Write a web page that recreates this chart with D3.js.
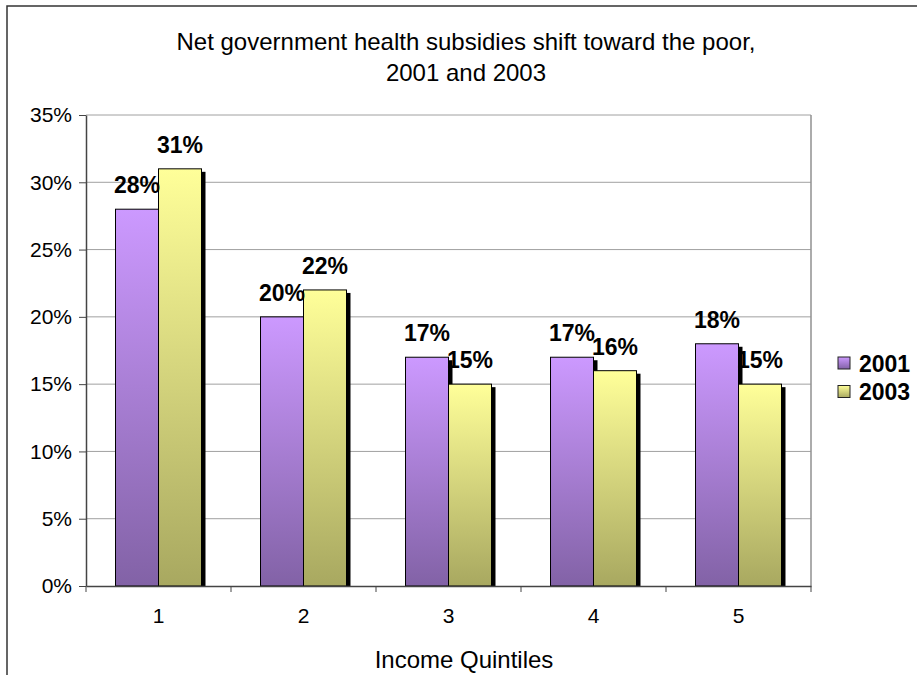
<!DOCTYPE html>
<html>
<head>
<meta charset="utf-8">
<script src="https://cdn.jsdelivr.net/npm/d3@7"></script>
<style>
  body { margin: 0; background: #fff; }
  svg { display: block; font-family: "Liberation Sans", Arial, sans-serif; }
</style>
</head>
<body>
<div id="chart"></div>
<script>
// Datos
const quintiles = ['1', '2', '3', '4', '5'];
const years = ['2001', '2003'];
const values2001 = [0.28, 0.20, 0.17, 0.17, 0.18];
const values2003 = [0.31, 0.22, 0.15, 0.16, 0.15];
const yTicks = [0, 0.05, 0.10, 0.15, 0.20, 0.25, 0.30, 0.35];
const titleLines = ['Net government health subsidies shift toward the poor,', '2001 and 2003'];

const W = 917, H = 675;
const plot = { left: 86, right: 811, top: 115, bottom: 586 };

const svg = d3.select('#chart').append('svg')
    .attr('width', W).attr('height', H);

// Degradados
const defs = svg.append('defs');
const grads = {
    '2001': ['#cc99ff', '#8262a6'],
    '2003': ['#ffff99', '#a8a860']
};
years.forEach(yr => {
    const g = defs.append('linearGradient')
        .attr('id', 'grad' + yr)
        .attr('x1', 0).attr('y1', 0).attr('x2', 0).attr('y2', 1);
    g.append('stop').attr('offset', '0%').attr('stop-color', grads[yr][0]);
    g.append('stop').attr('offset', '100%').attr('stop-color', grads[yr][1]);
});

// Marco exterior
svg.append('path')
    .attr('d', `M7,${H + 5} V6 H${W + 5}`)
    .attr('fill', 'none').attr('stroke', '#333').attr('stroke-width', 1.5);

// Escalas
const x = d3.scaleBand()
    .domain(quintiles)
    .range([plot.left, plot.right])
    .paddingInner(0.407)
    .paddingOuter(0.2035);

const xs = d3.scaleBand().domain(years).range([0, x.bandwidth()]);

const y = d3.scaleLinear()
    .domain([0, 0.35])
    .range([plot.bottom, plot.top]);

// Rejilla
svg.append('g').selectAll('line')
    .data(yTicks.filter(t => t > 0))
    .join('line')
    .attr('x1', plot.left).attr('x2', plot.right)
    .attr('y1', d => y(d)).attr('y2', d => y(d))
    .attr('stroke', '#a0a0a0').attr('stroke-width', 1);

// Borde derecho del área de trazado
svg.append('line')
    .attr('x1', plot.right).attr('x2', plot.right)
    .attr('y1', plot.top).attr('y2', plot.bottom)
    .attr('stroke', '#909090').attr('stroke-width', 1.5);

// Barras con sombra
const series = [
    { year: '2001', values: values2001 },
    { year: '2003', values: values2003 }
];

series.forEach(s => {
    const rows = quintiles.map((q, i) => ({ q, v: s.values[i] }));
    const g = svg.append('g');
    g.selectAll('rect.shadow')
        .data(rows)
        .join('rect')
        .attr('class', 'shadow')
        .attr('x', d => x(d.q) + xs(s.year) + 4)
        .attr('y', d => y(d.v) + 3)
        .attr('width', xs.bandwidth())
        .attr('height', d => plot.bottom - y(d.v) - 3)
        .attr('fill', '#000');
    g.selectAll('rect.bar')
        .data(rows)
        .join('rect')
        .attr('class', 'bar')
        .attr('x', d => x(d.q) + xs(s.year))
        .attr('y', d => y(d.v))
        .attr('width', xs.bandwidth())
        .attr('height', d => plot.bottom - y(d.v))
        .attr('fill', `url(#grad${s.year})`)
        .attr('stroke', '#000').attr('stroke-width', 1);
});

// Etiquetas de valores
series.forEach(s => {
    svg.append('g').selectAll('text')
        .data(quintiles.map((q, i) => ({ q, v: s.values[i] })))
        .join('text')
        .attr('x', d => x(d.q) + xs(s.year) + xs.bandwidth() / 2)
        .attr('y', d => y(d.v) - 16)
        .attr('text-anchor', 'middle')
        .attr('font-size', '23px').attr('font-weight', 'bold')
        .attr('fill', '#000')
        .text(d => d3.format('.0%')(d.v));
});

// Eje Y
const yAxis = svg.append('g')
    .attr('transform', `translate(${plot.left},0)`)
    .call(d3.axisLeft(y).tickValues(yTicks).tickFormat(d3.format('.0%')).tickSize(7).tickPadding(7).tickSizeOuter(0));
yAxis.select('.domain').attr('stroke', '#444').attr('stroke-width', 1.5);
yAxis.selectAll('.tick line').attr('stroke', '#444');
yAxis.selectAll('.tick text')
    .attr('font-size', '21px').attr('fill', '#000')
    .attr('font-family', '"Liberation Sans", Arial, sans-serif');

// Eje X
const xAxis = svg.append('g')
    .attr('transform', `translate(0,${plot.bottom})`)
    .call(d3.axisBottom(x).tickSize(0).tickPadding(22).tickSizeOuter(0));
xAxis.select('.domain').attr('stroke', '#444').attr('stroke-width', 1.5);
xAxis.selectAll('.tick text')
    .attr('font-size', '21px').attr('fill', '#000')
    .attr('font-family', '"Liberation Sans", Arial, sans-serif');

// Marcas entre categorías
svg.append('g').selectAll('line')
    .data(d3.range(quintiles.length + 1))
    .join('line')
    .attr('x1', i => plot.left + i * x.step())
    .attr('x2', i => plot.left + i * x.step())
    .attr('y1', plot.bottom).attr('y2', plot.bottom + 6)
    .attr('stroke', '#444').attr('stroke-width', 1);

// Título
svg.append('text')
    .attr('x', 466).attr('text-anchor', 'middle')
    .attr('font-size', '24px').attr('fill', '#000')
    .selectAll('tspan')
    .data(titleLines)
    .join('tspan')
    .attr('x', 466)
    .attr('y', (d, i) => 50 + i * 31)
    .text(d => d);

// Título eje X
svg.append('text')
    .attr('x', 464).attr('y', 668)
    .attr('text-anchor', 'middle')
    .attr('font-size', '24px').attr('fill', '#000')
    .text('Income Quintiles');

// Leyenda
const legend = svg.append('g').attr('transform', 'translate(838, 357)');
years.forEach((yr, i) => {
    const g = legend.append('g').attr('transform', `translate(0, ${i * 28.5})`);
    g.append('rect')
        .attr('width', 12).attr('height', 12)
        .attr('fill', `url(#grad${yr})`)
        .attr('stroke', '#222').attr('stroke-width', 1);
    g.append('text')
        .attr('x', 21).attr('y', 14.5)
        .attr('font-size', '23px').attr('font-weight', 'bold')
        .attr('fill', '#000')
        .text(yr);
});
</script>
</body>
</html>
